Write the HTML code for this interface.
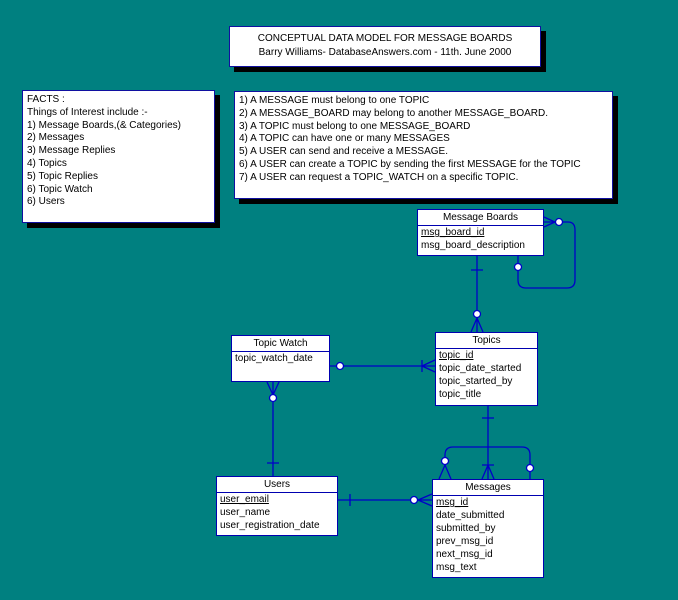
<!DOCTYPE html>
<html><head><style>
body{margin:0;width:678px;height:600px;background:#008080;position:relative;overflow:hidden;font-family:"Liberation Sans",Arial,sans-serif;font-size:10px;color:#000}
.b{position:absolute;background:#fff;box-sizing:border-box}
.sh{box-shadow:5px 5px 0 #000;border:1px solid #1010a0}
.e{border:1px solid #0000b0}
.e .h{text-align:center;border-bottom:1px solid #0000b0;height:15px;line-height:15px}
.e .r{padding-left:3px;line-height:13px}
.u{text-decoration:underline}
.t{line-height:12.8px;padding:3px 4px;white-space:nowrap}
svg{position:absolute;left:0;top:0}
</style></head><body>
<div class="b sh" style="left:229px;top:26px;width:312px;height:41px;text-align:center;line-height:14px;padding-top:5px">CONCEPTUAL DATA MODEL FOR MESSAGE BOARDS<br>Barry Williams- DatabaseAnswers.com - 11th. June 2000</div>
<div class="b sh t" style="left:22px;top:90px;width:193px;height:133px">FACTS :<br>Things of Interest include :-<br>1) Message Boards,(&amp; Categories)<br>2) Messages<br>3) Message Replies<br>4) Topics<br>5) Topic Replies<br>6) Topic Watch<br>6) Users</div>
<div class="b sh t" style="left:234px;top:91px;width:379px;height:108px">1) A MESSAGE must belong to one TOPIC<br>2) A MESSAGE_BOARD may belong to another MESSAGE_BOARD.<br>3) A TOPIC must belong to one MESSAGE_BOARD<br>4) A TOPIC can have one or many MESSAGES<br>5) A USER can send and receive a MESSAGE.<br>6) A USER can create a TOPIC by sending the first MESSAGE for the TOPIC<br>7) A USER can request a TOPIC_WATCH on a specific TOPIC.</div>

<div class="b e" style="left:417px;top:209px;width:127px;height:47px"><div class="h">Message Boards</div><div class="r u">msg_board_id</div><div class="r">msg_board_description</div></div>
<div class="b e" style="left:435px;top:332px;width:103px;height:74px"><div class="h">Topics</div><div class="r u">topic_id</div><div class="r">topic_date_started</div><div class="r">topic_started_by</div><div class="r">topic_title</div></div>
<div class="b e" style="left:231px;top:335px;width:99px;height:47px"><div class="h">Topic Watch</div><div class="r">topic_watch_date</div></div>
<div class="b e" style="left:216px;top:476px;width:122px;height:60px"><div class="h">Users</div><div class="r u">user_email</div><div class="r">user_name</div><div class="r">user_registration_date</div></div>
<div class="b e" style="left:432px;top:479px;width:112px;height:99px"><div class="h">Messages</div><div class="r u">msg_id</div><div class="r">date_submitted</div><div class="r">submitted_by</div><div class="r">prev_msg_id</div><div class="r">next_msg_id</div><div class="r">msg_text</div></div>

<svg width="678" height="600" fill="none" stroke="#0000c8" stroke-width="1.3">
<!-- MB - Topics -->
<path d="M477 256V332M471 270H483M477 318L471 332M477 318L483 332"/>
<circle cx="477" cy="314" r="3.5" fill="#fff"/>
<!-- MB self -->
<path d="M544 222H559M559 222L568 222Q575 222 575 230V280Q575 288 567 288H526Q518 288 518 280V256M544 217L555 222L544 227"/>
<circle cx="559" cy="222" r="3.5" fill="#fff"/>
<circle cx="518" cy="267" r="3.5" fill="#fff"/>
<!-- TW - Topics -->
<path d="M330 366H435M422 360V372M422 366L435 360M422 366L435 372"/>
<circle cx="340" cy="366" r="3.5" fill="#fff"/>
<!-- TW - Users -->
<path d="M273 382V476M267 463H279M273 395L267 382M273 395L279 382"/>
<circle cx="273" cy="398" r="3.5" fill="#fff"/>
<!-- Topics - Messages -->
<path d="M488 406V479M482 418H494M482 465H494M488 465L482 479M488 465L494 479"/>
<!-- Messages self -->
<path d="M445 461V455Q445 447 453 447H522Q530 447 530 455V479M445 465L439 479M445 465L451 479"/>
<circle cx="445" cy="461" r="3.5" fill="#fff"/>
<circle cx="530" cy="468" r="3.5" fill="#fff"/>
<!-- Users - Messages -->
<path d="M338 500H432M350 494V506M418 500L432 494M418 500L432 506"/>
<circle cx="414" cy="500" r="3.5" fill="#fff"/>
</svg>
</body></html>
